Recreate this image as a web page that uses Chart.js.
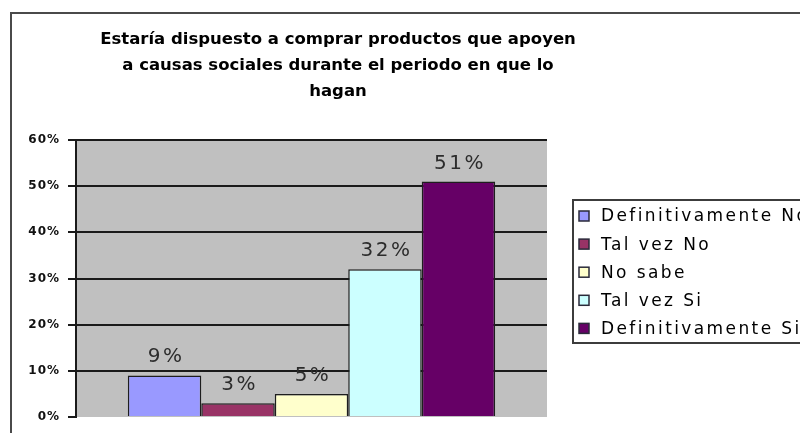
<!DOCTYPE html>
<html lang="es">
<head>
<meta charset="utf-8">
<title>Estaría dispuesto a comprar productos que apoyen a causas sociales</title>
<script src="https://cdn.jsdelivr.net/npm/chart.js@4.4.1/dist/chart.umd.min.js"></script>
<style>
  html, body { margin: 0; padding: 0; background: #fff; overflow: hidden; }
  #wrap { position: absolute; left: 0; top: 0; width: 800px; height: 460px; }
</style>
</head>
<body>
<div id="wrap"><canvas id="chart"></canvas></div>
<script>
// Survey answers (percent of respondents)
const titleLines = [
  'Estaría dispuesto a comprar productos que apoyen',
  'a causas sociales durante el periodo en que lo',
  'hagan'
];
const categories = [''];
const seriesNames = ['Definitivamente No', 'Tal vez No', 'No sabe', 'Tal vez Si', 'Definitivamente Si'];
const seriesValues = [9, 3, 5, 32, 51];
const yTickLabels = ['0%', '10%', '20%', '30%', '40%', '50%', '60%'];

// Classic office palette for the five answers
const seriesColors = ['#9999ff', '#993366', '#ffffcc', '#ccffff', '#660066'];

const datasets = seriesNames.map((name, i) => ({
  label: name,
  data: [seriesValues[i]],
  backgroundColor: seriesColors[i],
  borderColor: '#1e1e1e',
  borderWidth: 1.5,
  yAxisID: 'y',
  categoryPercentage: 0.78,
  barPercentage: 1.0
}));

const setSpacing = (ctx, v) => { if ('letterSpacing' in ctx) ctx.letterSpacing = v; };

// Gray plot area, outer frame, value labels and the boxed legend
const officeLook = {
  id: 'officeLook',
  beforeDraw(chart) {
    const { ctx, chartArea: a } = chart;
    ctx.save();
    ctx.fillStyle = '#ffffff';
    ctx.fillRect(0, 0, chart.width, chart.height);
    ctx.strokeStyle = '#4a4a4a';
    ctx.lineWidth = 2;
    ctx.strokeRect(11, 13, chart.width + 40, chart.height + 40);
    ctx.fillStyle = '#c0c0c0';
    ctx.fillRect(a.left, a.top, a.right - a.left, a.bottom - a.top);
    ctx.restore();
  },
  afterDatasetsDraw(chart) {
    const ctx = chart.ctx;
    ctx.save();
    ctx.font = '20px "DejaVu Sans"';
    setSpacing(ctx, '2.5px');
    ctx.fillStyle = '#2c2c2c';
    ctx.textAlign = 'center';
    ctx.textBaseline = 'alphabetic';
    chart.data.datasets.forEach((ds, i) => {
      chart.getDatasetMeta(i).data.forEach((bar, j) => {
        ctx.fillText(ds.data[j] + '%', bar.x + 1.5, bar.y - 13);
      });
    });
    ctx.restore();
    // tick labels (drawn next, on the upper layer) use a slightly open spacing
    setSpacing(ctx, '1px');
  },
  afterDraw(chart) {
    const { ctx, chartArea: a } = chart;
    setSpacing(ctx, '0px');
    const bx = a.right + 26, by = a.top + 60, bw = 320, bh = 143;
    ctx.save();
    ctx.fillStyle = '#ffffff';
    ctx.fillRect(bx, by, bw, bh);
    ctx.strokeStyle = '#3c3c3c';
    ctx.lineWidth = 2;
    ctx.strokeRect(bx, by, bw, bh);
    ctx.font = '17px "DejaVu Sans"';
    setSpacing(ctx, '2.4px');
    ctx.textAlign = 'left';
    ctx.textBaseline = 'middle';
    chart.data.datasets.forEach((ds, i) => {
      const cy = by + 16 + i * 28.1;
      ctx.fillStyle = ds.backgroundColor;
      ctx.fillRect(bx + 6, cy - 5, 10, 10);
      ctx.strokeStyle = '#2a2a3a';
      ctx.lineWidth = 1.5;
      ctx.strokeRect(bx + 6, cy - 5, 10, 10);
      ctx.fillStyle = '#000000';
      ctx.fillText(ds.label, bx + 28, cy + 1);
    });
    ctx.restore();
  }
};

new Chart(document.getElementById('chart'), {
  type: 'bar',
  data: { labels: categories, datasets },
  plugins: [officeLook],
  options: {
    responsive: true,
    maintainAspectRatio: false,
    animation: false,
    layout: { padding: { left: 0, top: 0, right: 124, bottom: 43 } },
    plugins: {
      legend: { display: false },
      tooltip: { enabled: false },
      title: {
        display: true,
        text: titleLines,
        color: '#000000',
        font: { family: '"DejaVu Sans", sans-serif', weight: 'bold', size: 16.5, lineHeight: '26px' },
        padding: { top: 27, bottom: 35 }
      }
    },
    scales: {
      x: { display: false },
      y: {
        min: 0,
        max: 60,
        afterFit(scale) { scale.width = 76; },
        ticks: {
          stepSize: 10,
          z: 1,
          padding: 8,
          color: '#111111',
          font: { family: '"DejaVu Sans"', weight: 'bold', size: 12 },
          callback: (value, index) => yTickLabels[index]
        },
        grid: {
          color: (c) => (c.tick && c.tick.value === 0 ? 'rgba(0,0,0,0)' : '#1a1a1a'),
          tickColor: '#1a1a1a',
          lineWidth: 2,
          tickLength: 8
        },
        border: { display: true, color: '#1a1a1a', width: 2 }
      },
      y2: {
        type: 'linear',
        position: 'right',
        afterFit(scale) { scale.width = 129; },
        grid: { display: false },
        ticks: { display: false },
        border: { display: false }
      }
    }
  }
});
</script>
</body>
</html>
